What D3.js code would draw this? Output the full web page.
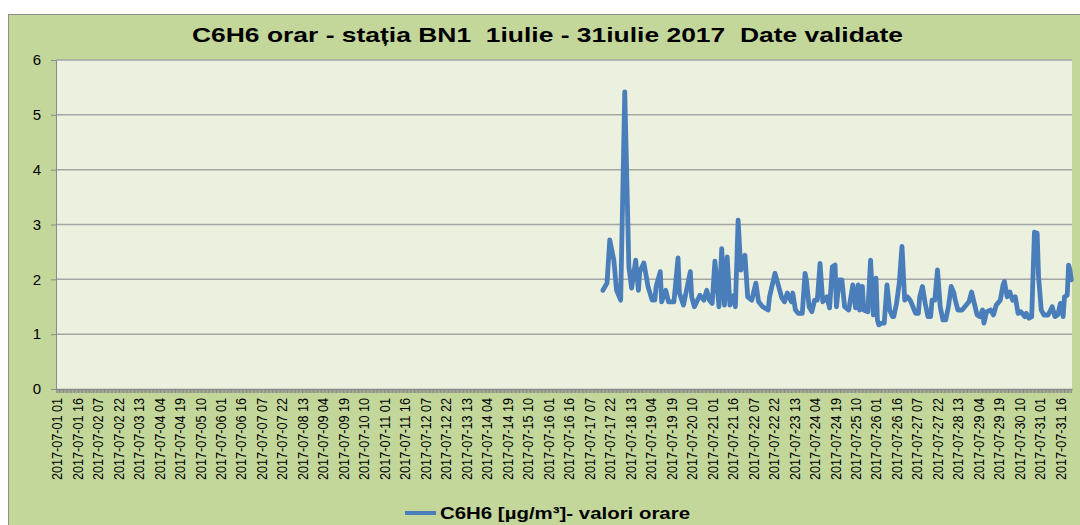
<!DOCTYPE html>
<html>
<head>
<meta charset="utf-8">
<script src="https://cdn.jsdelivr.net/npm/d3@7"></script>
<style>
  body { margin: 0; background: #fff; }
  svg { display: block; font-family: "Liberation Sans", Arial, sans-serif; }
</style>
</head>
<body>
<svg width="1080" height="525"></svg>
<script>

const chartTitle = "C6H6 orar - stația BN1  1iulie - 31iulie 2017  Date validate";
const seriesName = "C6H6 [µg/m³]- valori orare";
const yTicks = [0, 1, 2, 3, 4, 5, 6];
const labelEvery = 15;

// hour of the month counted from "2017-07-01 01" (index 0), and the value read at that hour
const readingHour = [
  400, 403, 405, 408, 410, 413, 416, 419, 421, 424, 426, 427, 430, 433, 436, 438, 439, 442, 443, 446,
  448, 452, 455, 456, 459, 464, 465, 467, 471, 474, 476, 478, 480, 482, 485, 487, 489, 491, 493, 496,
  497, 499, 501, 504, 506, 509, 512, 514, 517, 521, 522, 526, 528, 531, 533, 535, 538, 539, 541, 543,
  546, 548, 549, 551, 553, 555, 557, 559, 561, 564, 566, 568, 570, 571, 573, 575, 577, 580, 583, 585,
  587, 588, 590, 591, 594, 596, 598, 600, 601, 602, 604, 606, 608, 610, 612, 613, 615, 617, 619, 621,
  623, 625, 627, 629, 631, 632, 634, 636, 638, 640, 641, 643, 645, 647, 649, 651, 653, 655, 657, 658,
  660, 663, 665, 668, 670, 672, 674, 676, 678, 679, 681, 684, 686, 688, 691, 693, 694, 696, 698, 700,
  702, 704, 706, 709, 710, 712, 714, 716, 718, 719, 721, 723, 726, 729, 731, 733, 735, 737, 738, 740,
  741, 742, 743
];
const readingValue = [
  1.80, 1.93, 2.72, 2.35, 1.80, 1.62, 5.42, 2.23, 1.84, 2.35, 1.80, 2.14, 2.30, 1.87, 1.62, 1.62, 1.87, 2.14, 1.59, 1.80,
  1.59, 1.59, 2.39, 1.75, 1.53, 2.14, 1.68, 1.50, 1.71, 1.62, 1.80, 1.62, 1.56, 2.33, 1.50, 2.56, 1.53, 2.41, 1.53, 1.71,
  1.50, 3.08, 2.17, 2.44, 1.68, 1.62, 1.93, 1.59, 1.50, 1.44, 1.68, 2.11, 1.93, 1.66, 1.59, 1.75, 1.59, 1.75, 1.44, 1.38,
  1.38, 2.11, 1.99, 1.50, 1.41, 1.62, 1.62, 2.29, 1.59, 1.68, 1.48, 2.23, 2.26, 1.50, 1.99, 1.99, 1.50, 1.44, 1.90, 1.48,
  1.90, 1.44, 1.87, 1.44, 1.41, 2.35, 1.35, 2.02, 1.26, 1.17, 1.20, 1.20, 1.90, 1.44, 1.32, 1.32, 1.56, 1.93, 2.60, 1.62,
  1.68, 1.62, 1.50, 1.38, 1.38, 1.68, 1.87, 1.56, 1.32, 1.32, 1.62, 1.62, 2.17, 1.50, 1.26, 1.26, 1.50, 1.87, 1.75, 1.62,
  1.44, 1.44, 1.50, 1.59, 1.77, 1.56, 1.35, 1.32, 1.44, 1.20, 1.41, 1.44, 1.35, 1.53, 1.62, 1.90, 1.96, 1.68, 1.77, 1.62,
  1.68, 1.38, 1.41, 1.32, 1.38, 1.29, 1.32, 2.86, 2.84, 2.05, 1.44, 1.35, 1.35, 1.50, 1.32, 1.35, 1.56, 1.32, 1.68, 1.71,
  2.26, 2.17, 1.99
];

// every hour of July 2017, hours numbered 01..24
const pad = n => String(n).padStart(2, "0");
const hours = [];
for (let d = 1; d <= 31; d++) {
  for (let h = 1; h <= 24; h++) hours.push(`2017-07-${pad(d)} ${pad(h)}`);
}

const svg = d3.select("svg");
const plot = { left: 56, right: 1072, top: 60, bottom: 389 };

// chart area
svg.append("rect")
  .attr("x", 8.5).attr("y", 14.5)
  .attr("width", 1100).attr("height", 540)
  .attr("fill", "#c4d79b")
  .attr("stroke", "#8e8e8e");

svg.append("rect")
  .attr("x", plot.left).attr("y", plot.top)
  .attr("width", plot.right - plot.left).attr("height", plot.bottom - plot.top)
  .attr("fill", "#ebf1de");

// the source picture is stretched sideways, so the texts get a fixed length
svg.append("text")
  .attr("x", 192).attr("y", 42)
  .attr("font-size", 21)
  .attr("font-weight", "bold")
  .attr("textLength", 711)
  .attr("lengthAdjust", "spacingAndGlyphs")
  .style("white-space", "pre")
  .text(chartTitle);

const x = d3.scaleBand().domain(hours).range([plot.left, plot.right]);
const y = d3.scaleLinear().domain([0, 6]).range([plot.bottom, plot.top]);

// grid
svg.append("g")
  .selectAll("line")
  .data(yTicks.slice(1))
  .join("line")
  .attr("x1", plot.left).attr("x2", plot.right)
  .attr("y1", d => y(d)).attr("y2", d => y(d))
  .attr("stroke", "#a5a5a5")
  .attr("stroke-width", 1.5);

// y axis
const yAxis = svg.append("g")
  .attr("transform", `translate(${plot.left},0)`)
  .call(d3.axisLeft(y).tickValues(yTicks).tickFormat(d3.format("d")).tickSize(5).tickPadding(10));
yAxis.select(".domain").attr("stroke", "#8a8a8a");
yAxis.selectAll(".tick line").attr("stroke", "#8a8a8a");
yAxis.selectAll("text")
  .attr("font-size", 15)
  .attr("font-family", "Liberation Sans, Arial, sans-serif")
  .attr("fill", "#000");

// x axis
const xAxis = svg.append("g")
  .attr("transform", `translate(0,${plot.bottom})`)
  .call(d3.axisBottom(x)
    .tickSize(4)
    .tickSizeOuter(0)
    .tickFormat((d, i) => i % labelEvery === 0 ? d : ""));
xAxis.select(".domain").attr("stroke", "#8a8a8a").attr("stroke-width", 1.5);
xAxis.selectAll(".tick line").attr("stroke", "#8a8a8a");
xAxis.selectAll("text")
  .filter(d => hours.indexOf(d) % labelEvery === 0)
  .attr("font-size", 15.5)
  .attr("font-family", "Liberation Sans, Arial, sans-serif")
  .attr("fill", "#000")
  .attr("transform", "rotate(-90)")
  .attr("text-anchor", "end")
  .attr("x", -9)
  .attr("y", 0)
  .attr("dy", "0.35em")
  .attr("textLength", 82)
  .attr("lengthAdjust", "spacingAndGlyphs");

// series
const points = readingHour.map((h, i) => [hours[h], readingValue[i]]);
const line = d3.line()
  .x(d => x(d[0]) + x.bandwidth() / 2)
  .y(d => y(d[1]));

svg.append("path")
  .datum(points)
  .attr("d", line)
  .attr("fill", "none")
  .attr("stroke", "#4a7ebb")
  .attr("stroke-width", 4.8)
  .attr("stroke-linejoin", "round")
  .attr("stroke-linecap", "round");

// legend
svg.append("line")
  .attr("x1", 405).attr("x2", 436)
  .attr("y1", 513).attr("y2", 513)
  .attr("stroke", "#4a7ebb")
  .attr("stroke-width", 4);

svg.append("text")
  .attr("x", 440).attr("y", 519)
  .attr("font-size", 17)
  .attr("font-weight", "bold")
  .attr("textLength", 250)
  .attr("lengthAdjust", "spacingAndGlyphs")
  .text(seriesName);

</script>
</body>
</html>
